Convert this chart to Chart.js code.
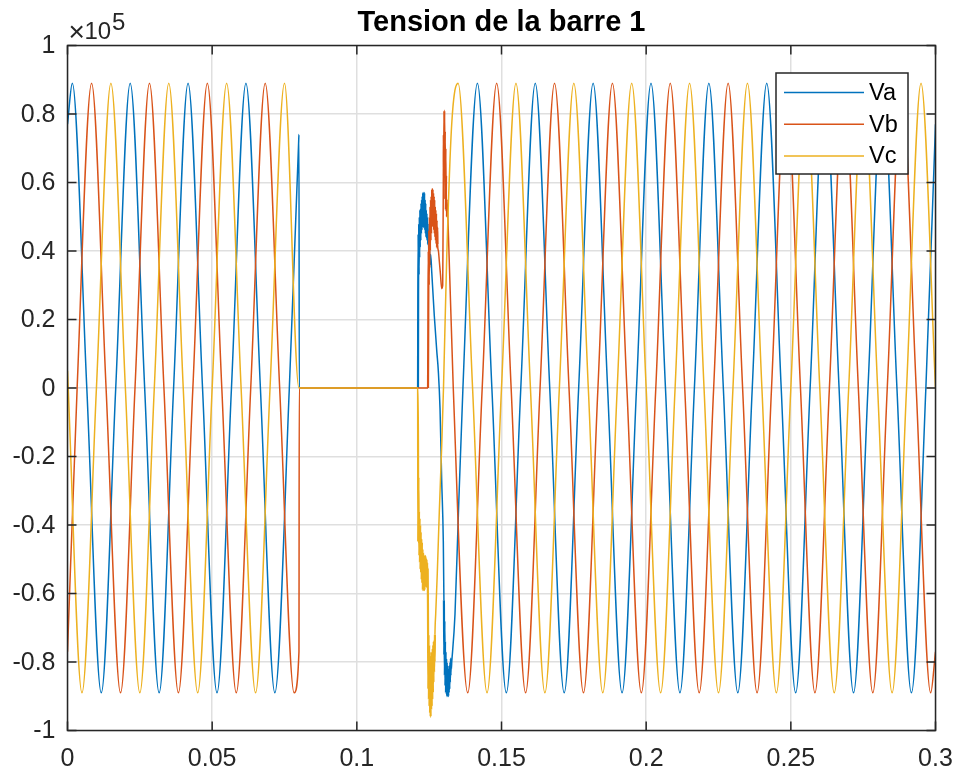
<!DOCTYPE html>
<html>
<head>
<meta charset="utf-8">
<script src="https://cdn.jsdelivr.net/npm/chart.js@4.4.1/dist/chart.umd.min.js"></script>
<style>
  html, body { margin: 0; padding: 0; background: #fff; }
  #wrap { width: 958px; height: 779px; }
</style>
</head>
<body>
<div id="wrap"><canvas id="chart" width="958" height="779"></canvas></div>
<script>
// values: time in s, voltage in V
const seriesNames = ['Va', 'Vb', 'Vc'];
const seriesColors = ['#0072BD', '#D95319', '#EDB120'];

const tVa = [
  0, 0.00167, 0.00667, 0.01167, 0.01667, 0.02167, 0.02667, 0.03167, 0.03667, 0.04167,
  0.04667, 0.05167, 0.05667, 0.06167, 0.06667, 0.07167, 0.07667, 0.0799, 0.08, 0.0801,
  0.12114,
  // reclosing transient
  0.1212, 0.1213, 0.1214, 0.1215, 0.1216, 0.1217, 0.1218, 0.1219, 0.122, 0.1221,
  0.1222, 0.1223, 0.1224, 0.1225, 0.1226, 0.1227, 0.1228, 0.1229, 0.123, 0.1231,
  0.1232, 0.1233, 0.1234, 0.1235, 0.1236, 0.1237, 0.1238, 0.1239, 0.124, 0.1241,
  0.1242, 0.1243, 0.1244, 0.1245, 0.1246, 0.1247,
  0.1249, 0.1251, 0.12529, 0.12553, 0.12588, 0.12678, 0.12761, 0.12816, 0.12875, 0.12933, 0.12989,
  0.1301, 0.1302, 0.1303, 0.1304, 0.1305, 0.1306, 0.1307, 0.1308, 0.1309, 0.131,
  0.1311, 0.1312, 0.1313, 0.1314, 0.1315, 0.1316, 0.1317, 0.1318, 0.1319, 0.132,
  0.1321, 0.1322, 0.1323, 0.1324, 0.1325, 0.1326, 0.1328, 0.13393, 0.13509,
  // steady state
  0.13667, 0.14167, 0.14667, 0.15167, 0.15667, 0.16167, 0.16667, 0.17167, 0.17667, 0.18167,
  0.18667, 0.19167, 0.19667, 0.20167, 0.20667, 0.21167, 0.21667, 0.22167, 0.22667, 0.23167,
  0.23667, 0.24167, 0.24667, 0.25167, 0.25667, 0.26167, 0.26667, 0.27167, 0.27667, 0.28167,
  0.28667, 0.29167, 0.29667, 0.3
];
const vVa = [
  77000, 89000, 0, -89000, 0, 89000, 0, -89000, 0, 89000,
  0, -89000, 0, 89000, 0, -89000, 0, 72000, 74000, 0,
  0,
  26000, 45000, 33000, 48000, 38000, 50000, 41000, 52000, 43000, 51000,
  45000, 54000, 46000, 55000, 47000, 56000, 48000, 57000, 47000, 56000,
  49000, 57000, 47000, 55000, 46000, 54000, 45000, 52000, 44000, 51000,
  44000, 50000, 43000, 48000, 42000, 46000,
  38000, 41000, 36000, 39000, 34000, 21000, 11000, 5000, -6000, -27000, -45000,
  -62000, -78000, -68000, -84000, -74000, -87000, -77000, -89000, -79000, -88000,
  -80000, -90000, -81000, -89000, -82000, -90000, -83000, -89000, -82000, -88000,
  -81000, -86000, -80000, -84000, -79000, -82000, -80000, -66000, -37000,
  0, 89000, 0, -89000, 0, 89000, 0, -89000, 0, 89000,
  0, -89000, 0, 89000, 0, -89000, 0, 89000, 0, -89000,
  0, 89000, 0, -89000, 0, 89000, 0, -89000, 0, 89000,
  0, -89000, 0, 77000
];

const tVb = [
  0, 0.00333, 0.00833, 0.01333, 0.01833, 0.02333, 0.02833, 0.03333, 0.03833, 0.04333,
  0.04833, 0.05333, 0.05833, 0.06333, 0.06833, 0.07333, 0.07833, 0.08, 0.0801, 0.1246,
  // reclosing transient
  0.1247, 0.1248, 0.1249, 0.125, 0.1251, 0.1252, 0.1253, 0.1254, 0.1255, 0.1256,
  0.1257, 0.1258, 0.1259, 0.126, 0.1261, 0.1262, 0.1263, 0.1264, 0.1265, 0.1266,
  0.1267, 0.1268, 0.1269, 0.127, 0.1271, 0.1272, 0.1273, 0.1274, 0.1275, 0.1276,
  0.1277, 0.1278, 0.1279,
  0.1282, 0.12851, 0.12892, 0.12933, 0.12968,
  0.12989, 0.13003, 0.13013, 0.13023, 0.13033, 0.13044, 0.13054, 0.13065, 0.13075, 0.13085,
  0.131, 0.13117, 0.13161,
  // steady state
  0.13333, 0.13833, 0.14333, 0.14833, 0.15333, 0.15833, 0.16333, 0.16833, 0.17333, 0.17833,
  0.18333, 0.18833, 0.19333, 0.19833, 0.20333, 0.20833, 0.21333, 0.21833, 0.22333, 0.22833,
  0.23333, 0.23833, 0.24333, 0.24833, 0.25333, 0.25833, 0.26333, 0.26833, 0.27333, 0.27833,
  0.28333, 0.28833, 0.29333, 0.29833, 0.3
];
const vVb = [
  -77000, 0, 89000, 0, -89000, 0, 89000, 0, -89000, 0,
  89000, 0, -89000, 0, 89000, 0, -89000, -77000, 0, 0,
  22000, 40000, 30000, 46000, 35000, 50000, 40000, 53000, 43000, 55000,
  45000, 56000, 47000, 58000, 48000, 58000, 49000, 57000, 47000, 56000,
  46000, 55000, 45000, 53000, 44000, 52000, 43000, 51000, 42000, 49000,
  41000, 47000, 42000,
  40000, 37000, 33000, 29000, 30000,
  60000, 74000, 62000, 81000, 64000, 75000, 55000, 70000, 52000, 62000,
  50000, 55000, 46000,
  0, -89000, 0, 89000, 0, -89000, 0, 89000, 0, -89000,
  0, 89000, 0, -89000, 0, 89000, 0, -89000, 0, 89000,
  0, -89000, 0, 89000, 0, -89000, 0, 89000, 0, -89000,
  0, 89000, 0, -89000, -77000
];

const tVc = [
  0, 0.005, 0.01, 0.015, 0.02, 0.025, 0.03, 0.035, 0.04, 0.045,
  0.05, 0.055, 0.06, 0.065, 0.07, 0.075, 0.08, 0.12114,
  // reclosing transient
  0.1212, 0.1213, 0.1214, 0.1215, 0.1216, 0.1217, 0.1218, 0.1219, 0.122, 0.1221,
  0.1222, 0.1223, 0.1224, 0.1225, 0.1226, 0.1227, 0.1228, 0.1229, 0.123, 0.1231,
  0.1232, 0.1233, 0.1234, 0.1235, 0.1236, 0.1237, 0.1238, 0.1239, 0.124, 0.1241,
  0.1242, 0.1243, 0.1244, 0.1245,
  0.1246, 0.1247, 0.1248, 0.1249, 0.125, 0.1251, 0.1252, 0.1253, 0.1254, 0.1255,
  0.1256, 0.1257, 0.1258, 0.1259, 0.126, 0.1261, 0.1262, 0.1263, 0.1264, 0.1265,
  0.1266, 0.1267, 0.1268, 0.1269, 0.127,
  0.12726, 0.12781, 0.12851, 0.12933, 0.12995, 0.13106, 0.13279,
  // steady state
  0.135, 0.14, 0.145, 0.15, 0.155, 0.16, 0.165, 0.17, 0.175, 0.18,
  0.185, 0.19, 0.195, 0.2, 0.205, 0.21, 0.215, 0.22, 0.225, 0.23,
  0.235, 0.24, 0.245, 0.25, 0.255, 0.26, 0.265, 0.27, 0.275, 0.28,
  0.285, 0.29, 0.295, 0.3
];
const vVc = [
  5000, -89000, 0, 89000, 0, -89000, 0, 89000, 0, -89000,
  0, 89000, 0, -89000, 0, 89000, 0, 0,
  -45000, -26000, -44000, -36000, -49000, -38000, -51000, -40000, -53000, -42000,
  -54000, -44000, -56000, -45000, -57000, -47000, -59000, -48000, -59000, -50000,
  -58000, -49000, -59000, -50000, -58000, -49000, -57000, -50000, -58000, -50000,
  -57000, -51000, -56000, -53000,
  -67000, -88000, -72000, -91000, -75000, -93000, -77000, -95000, -79000, -96000,
  -80000, -94000, -78000, -93000, -77000, -91000, -76000, -89000, -75000, -86000,
  -74000, -83000, -76000, -80000, -72000,
  -66000, -54000, -36000, -17000, 0, 38000, 77000,
  89000, 0, -89000, 0, 89000, 0, -89000, 0, 89000, 0,
  -89000, 0, 89000, 0, -89000, 0, 89000, 0, -89000, 0,
  89000, 0, -89000, 0, 89000, 0, -89000, 0, 89000, 0,
  -89000, 0, 89000, 0
];

const FONT = "'Liberation Sans', Arial, Helvetica, sans-serif";
const INK = '#262626';

function pts(t, v) {
  return t.map((x, i) => ({ x: x, y: v[i] }));
}

// densely sampled (noisy) stretches after reclosing read a bit heavier
function noisyWidth(c) {
  const dx = c.p1.parsed.x - c.p0.parsed.x;
  return c.p0.parsed.x > 0.12 && dx < 0.00012 ? 2.2 : undefined;
}

// box, inward ticks on all four sides, x10^5 label, legend
const matlabLook = {
  id: 'matlabLook',
  afterDatasetsDraw(chart) {
    const { ctx, chartArea: a, scales } = chart;
    ctx.save();
    ctx.strokeStyle = INK;
    ctx.lineWidth = 1.5;
    ctx.strokeRect(a.left, a.top, a.right - a.left, a.bottom - a.top);
    ctx.beginPath();
    scales.x.ticks.forEach(t => {
      const px = scales.x.getPixelForValue(t.value);
      ctx.moveTo(px, a.bottom); ctx.lineTo(px, a.bottom - 9);
      ctx.moveTo(px, a.top); ctx.lineTo(px, a.top + 9);
    });
    scales.y.ticks.forEach(t => {
      const py = scales.y.getPixelForValue(t.value);
      ctx.moveTo(a.left, py); ctx.lineTo(a.left + 9, py);
      ctx.moveTo(a.right, py); ctx.lineTo(a.right - 9, py);
    });
    ctx.stroke();

    // exponent
    ctx.fillStyle = INK;
    ctx.textAlign = 'left';
    ctx.textBaseline = 'alphabetic';
    ctx.font = '28px ' + FONT;
    ctx.fillText('\u00d7', a.left + 1, a.top - 5);
    ctx.font = '24px ' + FONT;
    ctx.fillText('10', a.left + 17, a.top - 6.5);
    ctx.fillText('5', a.left + 44.5, a.top - 15.5);

    // legend
    const bw = 132, bh = 101;
    const bx = a.right - 27.5 - bw;
    const by = a.top + 27.5;
    ctx.fillStyle = '#fff';
    ctx.fillRect(bx, by, bw, bh);
    ctx.strokeStyle = INK;
    ctx.lineWidth = 1.5;
    ctx.strokeRect(bx, by, bw, bh);
    ctx.font = '23.5px ' + FONT;
    ctx.textBaseline = 'middle';
    chart.data.datasets.forEach((ds, i) => {
      const y = by + 19.5 + i * 31.7;
      ctx.strokeStyle = ds.borderColor;
      ctx.lineWidth = 1.5;
      ctx.beginPath();
      ctx.moveTo(bx + 8, y);
      ctx.lineTo(bx + 88, y);
      ctx.stroke();
      ctx.fillStyle = '#000';
      ctx.fillText(ds.label, bx + 93, y + 1);
    });
    ctx.restore();
  }
};

const series = [pts(tVa, vVa), pts(tVb, vVb), pts(tVc, vVc)];

new Chart(document.getElementById('chart'), {
  type: 'line',
  data: {
    datasets: series.map((d, i) => ({
      label: seriesNames[i],
      data: d,
      borderColor: seriesColors[i],
      borderWidth: 1.5,
      pointRadius: 0,
      fill: false,
      cubicInterpolationMode: 'monotone',
      segment: { borderWidth: noisyWidth },
      order: 3 - i
    }))
  },
  options: {
    responsive: false,
    animation: false,
    events: [],
    layout: { padding: { top: 0, right: 22.5, bottom: 0, left: 0 } },
    plugins: {
      legend: { display: false },
      tooltip: { enabled: false },
      title: {
        display: true,
        text: 'Tension de la barre 1',
        fullSize: false,
        color: '#000',
        font: { family: FONT, size: 29, weight: 'bold' },
        padding: { top: 6, bottom: 4.7 }
      }
    },
    scales: {
      x: {
        type: 'linear',
        min: 0,
        max: 0.3,
        ticks: {
          stepSize: 0.05,
          padding: 13.5,
          maxRotation: 0,
          autoSkip: false,
          color: INK,
          font: { family: FONT, size: 25 },
          callback: v => String(+v.toFixed(2))
        },
        grid: { color: '#dfdfdf', lineWidth: 1.5, drawTicks: false },
        border: { display: false },
        afterFit: s => { s.height = 48.5; s.paddingLeft = 0; s.paddingRight = 0; }
      },
      y: {
        min: -100000,
        max: 100000,
        ticks: {
          stepSize: 20000,
          padding: 12,
          labelOffset: 1,
          color: INK,
          font: { family: FONT, size: 25 },
          callback: v => String(Math.round(v / 1e4) / 10)
        },
        grid: { color: '#dfdfdf', lineWidth: 1.5, drawTicks: false },
        border: { display: false },
        afterFit: s => { s.width = 67.5; s.paddingTop = 0; s.paddingBottom = 0; }
      }
    }
  },
  plugins: [matlabLook]
});
</script>
</body>
</html>
